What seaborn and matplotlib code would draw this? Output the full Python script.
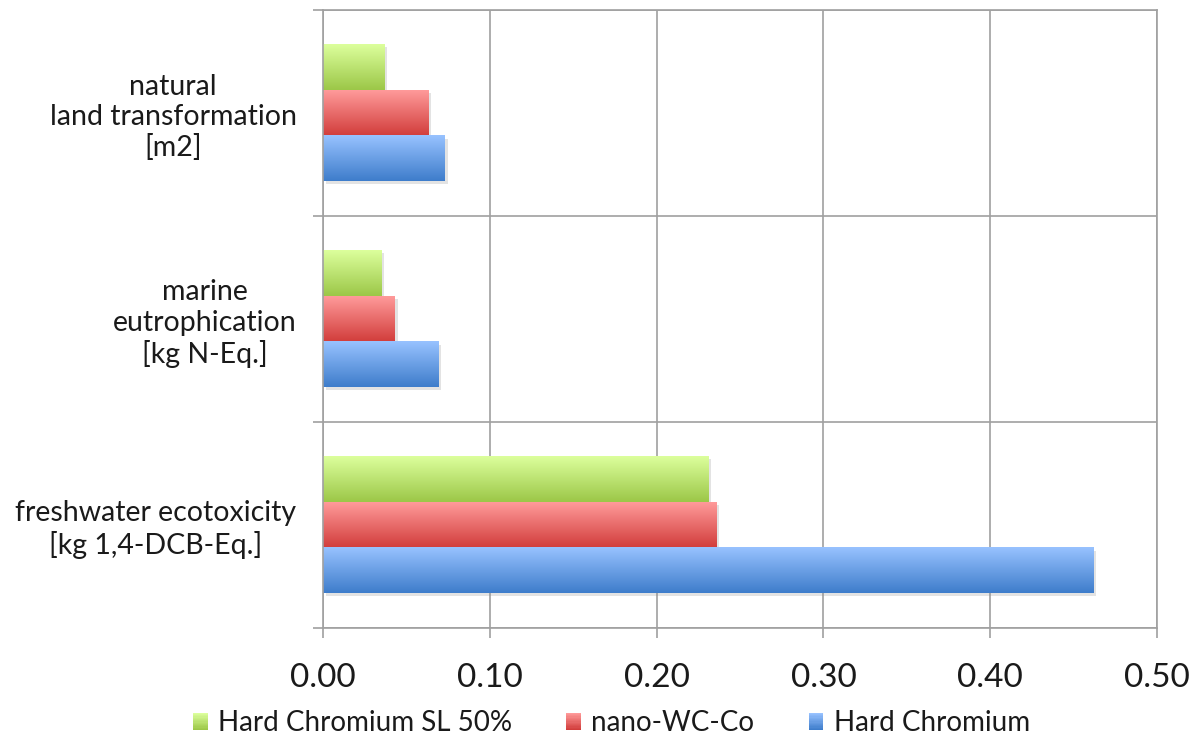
import numpy as np
import pandas as pd
import matplotlib
matplotlib.use("Agg")
import matplotlib.pyplot as plt
import matplotlib.patheffects as pe
from matplotlib.patches import Rectangle
from matplotlib.legend_handler import HandlerBase
from matplotlib.colors import to_rgb
import seaborn as sns

# Impact categories (top to bottom) and the three coating variants
categories = [
    "natural\nland transformation\n[m2]",
    "marine\neutrophication\n[kg N-Eq.]",
    "freshwater ecotoxicity\n[kg 1,4-DCB-Eq.]",
]
series = ["Hard Chromium SL 50%", "nano-WC-Co", "Hard Chromium"]
hard_chromium_sl50 = [0.037, 0.035, 0.231]
nano_wc_co = [0.063, 0.043, 0.236]
hard_chromium = [0.073, 0.069, 0.462]
x_ticks = [0.0, 0.1, 0.2, 0.3, 0.4, 0.5]

# Gradient colours per series: (top, bottom)
grad_colors = {
    "Hard Chromium SL 50%": ("#dcff9c", "#9cc748"),
    "nano-WC-Co": ("#ff9a9a", "#d13d3b"),
    "Hard Chromium": ("#98c2ff", "#3e7dcb"),
}

df = pd.DataFrame({
    "category": categories * 3,
    "series": np.repeat(series, len(categories)),
    "value": hard_chromium_sl50 + nano_wc_co + hard_chromium,
})

sns.set_theme(style="white")
plt.rcParams["font.family"] = ["Lato", "DejaVu Sans"]
grid_col = "#a0a0a0"
text_col = "#1a1a1a"

fig = plt.figure(figsize=(11.92, 7.36), dpi=100)
ax = fig.add_axes([323 / 1192, 1 - 628 / 736, (1157 - 323) / 1192, (628 - 10) / 736])

palette = {s: grad_colors[s][1] for s in series}
sns.barplot(data=df, y="category", x="value", hue="series", order=categories,
            hue_order=series, palette=palette, orient="h", width=0.665,
            gap=0, legend=False, ax=ax, linewidth=0, saturation=1)


def vertical_gradient(top, bottom, n=64):
    t = np.linspace(0, 1, n)[:, None, None]
    a = np.array(to_rgb(top))[None, None, :]
    b = np.array(to_rgb(bottom))[None, None, :]
    return a * (1 - t) + b * t


# Paint each bar with a top-to-bottom gradient and a soft drop shadow
for name, container in zip(series, ax.containers):
    top, bottom = grad_colors[name]
    img = vertical_gradient(top, bottom)
    for bar in container:
        bar.set_path_effects([
            pe.SimplePatchShadow(offset=(2, -2), shadow_rgbFace="#909090", alpha=0.25),
            pe.Normal(),
        ])
        bar.set_zorder(2)
        x0, y0 = bar.get_x(), bar.get_y()
        w, h = bar.get_width(), bar.get_height()
        ax.imshow(img, extent=(x0, x0 + w, y0 + h, y0), aspect="auto",
                  interpolation="bilinear", zorder=2.5)

ax.set_xlim(0, 0.5)
ax.set_ylim(2.5, -0.5)
ax.set_xticks(x_ticks)
ax.set_xticklabels([f"{v:.2f}" for v in x_ticks], fontsize=24, color=text_col)
ax.set_yticks(range(len(categories)))
ax.set_yticklabels(categories, fontsize=20.5, color=text_col, multialignment="center")
ax.set_yticks([-0.5, 0.5, 1.5, 2.5], minor=True)
ax.set_xlabel("")
ax.set_ylabel("")

ax.tick_params(axis="x", which="major", direction="out", length=7.2, width=1.2,
               color=grid_col, pad=18, bottom=True)
ax.tick_params(axis="y", which="major", length=0, pad=19)
ax.tick_params(axis="y", which="minor", direction="out", length=7.2, width=1.2,
               color=grid_col, left=True)
ax.set_axisbelow(True)
ax.grid(axis="x", which="major", color=grid_col, linewidth=1.2)
ax.grid(axis="y", which="minor", color=grid_col, linewidth=1.2)
ax.grid(axis="y", which="major", visible=False)
for side, sp in ax.spines.items():
    sp.set_color(grid_col)
    sp.set_linewidth(1.2)


class GradientHandler(HandlerBase):
    def __init__(self, top, bottom, **kw):
        super().__init__(**kw)
        self.top, self.bottom = np.array(to_rgb(top)), np.array(to_rgb(bottom))

    def create_artists(self, legend, orig_handle, xdescent, ydescent, width,
                       height, fontsize, trans):
        n = 14
        arts = []
        for i in range(n):
            t = i / (n - 1)
            col = self.top * (1 - t) + self.bottom * t
            y = -ydescent + height * (1 - (i + 1) / n)
            arts.append(Rectangle((-xdescent, y), width, height / n + 0.2,
                                  facecolor=col, edgecolor="none", transform=trans))
        return arts


handles = [Rectangle((0, 0), 1, 1) for _ in series]
handler_map = {h: GradientHandler(*grad_colors[s]) for h, s in zip(handles, series)}
fig.legend(handles, series, handler_map=handler_map, loc="center",
           bbox_to_anchor=(0.513, 0.017), ncol=3, frameon=False, fontsize=20,
           handlelength=0.52, handleheight=0.58, handletextpad=0.38,
           columnspacing=1.95, labelcolor=text_col)

fig.savefig("out.png", dpi=100, facecolor="white")
